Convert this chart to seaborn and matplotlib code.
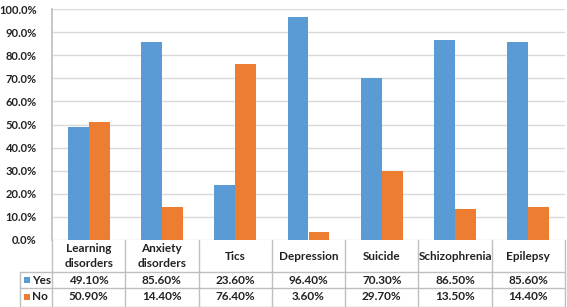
import matplotlib
matplotlib.use('Agg')
import matplotlib.pyplot as plt
import numpy as np
import pandas as pd
import seaborn as sns

# data
categories = ['Learning\ndisorders', 'Anxiety\ndisorders', 'Tics', 'Depression',
              'Suicide', 'Schizophrenia', 'Epilepsy']
yes = [49.1, 85.6, 23.6, 96.4, 70.3, 86.5, 85.6]
no = [50.9, 14.4, 76.4, 3.6, 29.7, 13.5, 14.4]
series = ['Yes', 'No']
colors = ['#5B9BD5', '#ED7D31']

df = pd.DataFrame({
    'cat': categories * 2,
    'val': yes + no,
    'ans': ['Yes'] * len(yes) + ['No'] * len(no),
})

sns.set_theme(style='white')
plt.rcParams['font.family'] = ['Lato', 'DejaVu Sans']
plt.rcParams['font.weight'] = 'bold'

W, H = 567, 307
fig = plt.figure(figsize=(W / 100, H / 100), dpi=100)
ax = fig.add_axes([52 / W, 1 - 240 / H, 513 / W, 231 / H])

sns.barplot(data=df, x='cat', y='val', hue='ans', hue_order=series,
            palette=colors, width=0.57, gap=0, ax=ax, legend=False,
            saturation=1, linewidth=0, edgecolor='none')

ax.set_ylim(0, 100)
ax.set_xlim(-0.5, len(categories) - 0.5)
ax.set_yticks(np.arange(0, 101, 10))
ax.set_yticklabels(['%.1f%%' % v for v in np.arange(0, 101, 10)],
                   fontsize=8, fontweight='bold', color='#222222')
ax.tick_params(axis='y', length=0, pad=11)
ax.set_xticks([])
ax.set_xlabel('')
ax.set_ylabel('')
ax.yaxis.grid(True, color='#D9D9D9', linewidth=1)
ax.set_axisbelow(True)
for s in ['top', 'right', 'bottom']:
    ax.spines[s].set_visible(False)
ax.spines['left'].set_color('#BFBFBF')

# data table under the chart
left_px = 20
extra = (52 - left_px) / (513 / len(categories))
tx0 = -0.5 - extra
tab = fig.add_axes([left_px / W, 0, (565 - left_px) / W, 67 / H])
tab.set_xlim(tx0, len(categories) - 0.5)
tab.set_ylim(67, 0)
tab.axis('off')

lc = '#BFBFBF'
n = len(categories)
for k in range(n + 1):
    tab.plot([-0.5 + k, -0.5 + k], [0, 67], color=lc, lw=1, clip_on=False)
tab.plot([tx0, tx0], [32, 67], color=lc, lw=1, clip_on=False)
for yy in [32, 47.5, 66.5]:
    tab.plot([tx0, n - 0.5], [yy, yy], color=lc, lw=1, clip_on=False)

for i, c in enumerate(categories):
    tab.text(i, 16, c, ha='center', va='center', fontsize=8.5,
             fontweight='bold', color='#222222', linespacing=1.35)
    tab.text(i, 40, '%.2f%%' % yes[i], ha='center', va='center',
             fontsize=8.5, fontweight='bold', color='#222222')
    tab.text(i, 57, '%.2f%%' % no[i], ha='center', va='center',
             fontsize=8.5, fontweight='bold', color='#222222')

for j, (name, col) in enumerate(zip(series, colors)):
    yy = 40 if j == 0 else 57
    tab.scatter([tx0 + 0.09], [yy], marker='s', s=18, color=col,
                clip_on=False, linewidths=0)
    tab.text(tx0 + 0.16, yy, name, ha='left', va='center', fontsize=8.5,
             fontweight='bold', color='#222222')

fig.savefig('out.png', dpi=100)
